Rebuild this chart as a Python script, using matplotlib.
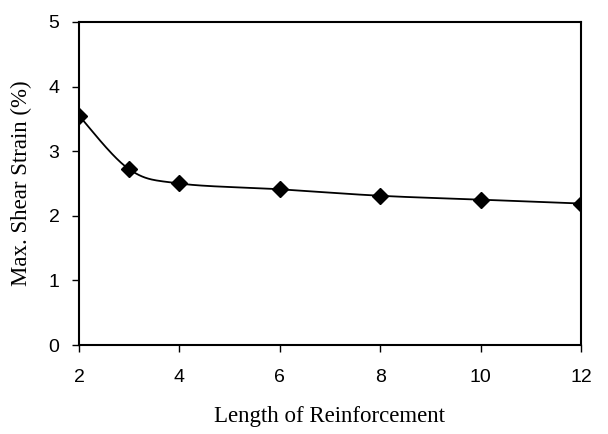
import numpy as np
import matplotlib
matplotlib.use("Agg")
import matplotlib.pyplot as plt

# reinforcement length vs. maximum shear strain
length = [2, 3, 4, 6, 8, 10, 12]
strain = [3.55, 2.72, 2.50, 2.41, 2.31, 2.25, 2.19]

x_ticks = [2, 4, 6, 8, 10, 12]
y_ticks = [0, 1, 2, 3, 4, 5]


def smooth(xs, ys, n=40):
    """Bezier smoothing between points, like a spreadsheet smoothed line."""
    p = np.column_stack([xs, ys]).astype(float)
    p = np.vstack([p[0], p, p[-1]])
    out = []
    t = np.linspace(0, 1, n)[:, None]
    for i in range(1, len(p) - 2):
        p0, p1, p2, p3 = p[i - 1], p[i], p[i + 1], p[i + 2]
        c1 = p1 + (p2 - p0) / 6.0
        c2 = p2 - (p3 - p1) / 6.0
        seg = ((1 - t) ** 3 * p1 + 3 * (1 - t) ** 2 * t * c1
               + 3 * (1 - t) * t ** 2 * c2 + t ** 3 * p2)
        out.append(seg)
    seg = np.vstack(out)
    return seg[:, 0], seg[:, 1]


fig = plt.figure(figsize=(6.08, 4.34), dpi=100)
ax = fig.add_axes([79 / 608, 89 / 434, 502 / 608, 323 / 434])

sx, sy = smooth(length, strain)
ax.plot(sx, sy, color="black", lw=1.3)
ax.plot(length, strain, ls="none", marker="D", ms=8, color="black")

ax.set_xlim(2, 12)
ax.set_ylim(0, 5)
ax.set_xticks(x_ticks)
ax.set_yticks(y_ticks)
for s in ax.spines.values():
    s.set_linewidth(1.5)
ax.tick_params(direction="out", length=5, width=1, labelsize=14)
ax.tick_params(axis="x", pad=12)
ax.tick_params(axis="y", pad=9)
for lab in ax.get_xticklabels() + ax.get_yticklabels():
    lab.set_fontfamily("Liberation Sans")

ax.set_xlabel("Length of Reinforcement", family="Liberation Serif",
              fontsize=16.5, labelpad=15)
ax.set_ylabel("Max. Shear Strain (%)", family="Liberation Serif",
              fontsize=16.5, labelpad=12)

fig.savefig("out.png", dpi=100)
